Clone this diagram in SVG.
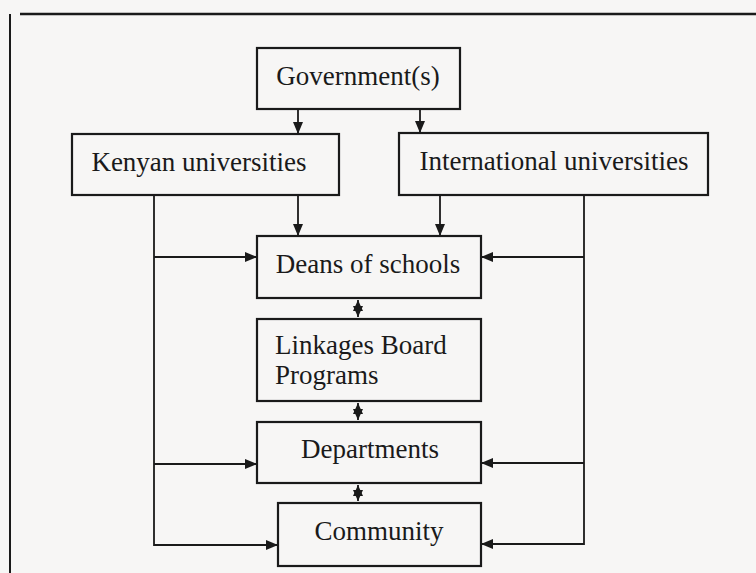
<svg xmlns="http://www.w3.org/2000/svg" width="756" height="573" viewBox="0 0 756 573">
  <defs>
    <marker id="arr" viewBox="0 0 12 10" refX="12" refY="5" markerWidth="12" markerHeight="10" markerUnits="userSpaceOnUse" orient="auto">
      <path d="M0,0 L12,5 L0,10 Z" fill="#1a1a1a"/>
    </marker>
    <marker id="arrs" viewBox="0 0 11 10" refX="11" refY="5" markerWidth="11" markerHeight="10" markerUnits="userSpaceOnUse" orient="auto-start-reverse">
      <path d="M0,0 L11,5 L0,10 Z" fill="#1a1a1a"/>
    </marker>
  </defs>
  <style>
    .box { fill: none; stroke: #1a1a1a; stroke-width: 2.2; }
    .lbl { font-family: "Liberation Serif", "Times New Roman", serif; font-size: 27px; fill: #1a1a1a; }
    .c { text-anchor: middle; }
    .ln { fill: none; stroke: #1a1a1a; stroke-width: 1.8; }
    .ar { marker-end: url(#arr); }
    .dbl { marker-start: url(#arrs); marker-end: url(#arrs); }
  </style>
  <rect width="756" height="573" fill="#f7f6f5"/>
  <!-- page frame -->
  <line x1="20" y1="14" x2="756" y2="14" stroke="#1a1a1a" stroke-width="2.5"/>
  <line x1="10" y1="14" x2="10" y2="573" stroke="#1a1a1a" stroke-width="2"/>

  <g id="connectors">
    <line class="ln ar" x1="298" y1="109" x2="298" y2="134"/>
    <line class="ln ar" x1="420" y1="109" x2="420" y2="133"/>
    <line class="ln ar" x1="298" y1="195" x2="298" y2="236"/>
    <line class="ln ar" x1="440" y1="195" x2="440" y2="236"/>
    <!-- left bus from Kenyan universities -->
    <polyline class="ln" points="154,195 154,545 266,545"/>
    <line class="ln ar" x1="154" y1="257" x2="257" y2="257"/>
    <line class="ln ar" x1="154" y1="464" x2="257" y2="464"/>
    <line class="ln ar" x1="154" y1="545" x2="278" y2="545"/>
    <!-- right bus from International universities -->
    <polyline class="ln" points="584,195 584,544 493,544"/>
    <line class="ln ar" x1="584" y1="257" x2="481" y2="257"/>
    <line class="ln ar" x1="584" y1="463" x2="481" y2="463"/>
    <line class="ln ar" x1="584" y1="544" x2="481" y2="544"/>
    <!-- two-way links along the chain (overlapping heads) -->
    <line class="ln dbl" x1="358" y1="300" x2="358" y2="317"/>
    <line class="ln dbl" x1="358" y1="403" x2="358" y2="420"/>
    <line class="ln dbl" x1="358" y1="485" x2="358" y2="501"/>
  </g>

  <g id="government">
    <rect class="box" x="257" y="48" width="203" height="61"/>
    <text class="lbl c" x="358" y="85">Government(s)</text>
  </g>
  <g id="kenyan">
    <rect class="box" x="72" y="134" width="267" height="61"/>
    <text class="lbl c" x="199" y="171">Kenyan universities</text>
  </g>
  <g id="international">
    <rect class="box" x="399" y="133" width="309" height="62"/>
    <text class="lbl c" x="554" y="170">International universities</text>
  </g>
  <g id="deans">
    <rect class="box" x="257" y="236" width="224" height="62"/>
    <text class="lbl c" x="368" y="273">Deans of schools</text>
  </g>
  <g id="linkages">
    <rect class="box" x="257" y="319" width="224" height="82"/>
    <text class="lbl" x="275" y="354">Linkages Board</text>
    <text class="lbl" x="275" y="384">Programs</text>
  </g>
  <g id="departments">
    <rect class="box" x="257" y="422" width="224" height="61"/>
    <text class="lbl c" x="370" y="458">Departments</text>
  </g>
  <g id="community">
    <rect class="box" x="278" y="503" width="203" height="63"/>
    <text class="lbl c" x="379" y="540">Community</text>
  </g>
</svg>
